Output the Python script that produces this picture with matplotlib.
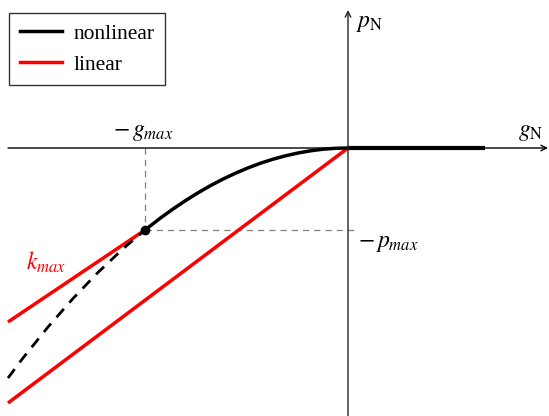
import matplotlib
matplotlib.use("Agg")
import matplotlib.pyplot as plt
from matplotlib.lines import Line2D

plt.rcParams['font.family'] = ['Liberation Serif', 'DejaVu Serif']
plt.rcParams['mathtext.fontset'] = 'stix'

# data (units: 1 = 100 px in reference)
gmax = 2.03
pmax = 0.82
nl_g = [-2.03, -1.875, -1.75, -1.625, -1.5, -1.375, -1.25, -1.125, -1.0, -0.875, -0.75, -0.625, -0.5, -0.375, -0.25, -0.125, 0.0]
nl_p = [-0.82, -0.70, -0.61, -0.526, -0.448, -0.376, -0.311, -0.252, -0.199, -0.152, -0.112, -0.078, -0.050, -0.028, -0.012, -0.003, 0.0]
flat_g = [0.0, 1.37]
flat_p = [0.0, 0.0]
ext_g = [-3.40, -3.25, -3.0, -2.75, -2.5, -2.25, -2.03]
ext_p = [-2.30, -2.10, -1.79, -1.505, -1.244, -1.008, -0.82]
kmax_g = [-3.40, -2.03]
kmax_p = [-1.74, -0.82]
lin_g = [-3.40, 0.0]
lin_p = [-2.55, 0.0]

fig = plt.figure(figsize=(5.49, 4.16), dpi=100)
ax = fig.add_axes([0, 0, 1, 1])
ax.set_xlim(-3.48, 2.01)
ax.set_ylim(-2.68, 1.48)
ax.axis('off')

# axes with arrows
ax.annotate('', xy=(2.00, 0), xytext=(-3.40, 0), annotation_clip=False,
            arrowprops=dict(arrowstyle='->', color='black', lw=1.0, shrinkA=0, shrinkB=0))
ax.annotate('', xy=(0, 1.38), xytext=(0, -2.70), annotation_clip=False,
            arrowprops=dict(arrowstyle='->', color='#222222', lw=1.0, shrinkA=0, shrinkB=0))

# guide lines
ax.plot([-gmax, -gmax], [0, -pmax], color='gray', lw=0.9, ls=(0, (5, 4)))
ax.plot([-gmax, 0.07], [-pmax, -pmax], color='gray', lw=0.9, ls=(0, (5, 4)))

# curves
ax.plot(lin_g, lin_p, color='#ff0000', lw=2.5, solid_capstyle='butt')
ax.plot(kmax_g, kmax_p, color='#ff0000', lw=2.5, solid_capstyle='butt')
ax.plot(ext_g, ext_p, color='black', lw=2.0, ls=(0, (4, 3)))
ax.plot(nl_g, nl_p, color='black', lw=2.5, solid_capstyle='butt')
ax.plot(flat_g, flat_p, color='black', lw=3.0, solid_capstyle='butt')
ax.plot([-gmax], [-pmax], 'o', color='black', ms=6)

# labels
fs = 17
ax.text(1.70, 0.05, r'$g_\mathrm{N}$', fontsize=fs, ha='left', va='bottom')
ax.text(0.08, 1.24, r'$p_\mathrm{N}$', fontsize=fs, ha='left', va='center')
ax.text(-2.05, 0.05, r'$-\,g_{max}$', fontsize=fs, ha='center', va='bottom')
ax.text(0.10, -0.95, r'$-\,p_{max}$', fontsize=fs, ha='left', va='center')
ax.text(-3.22, -1.14, r'$k_{max}$', fontsize=fs, ha='left', va='center', color='#ff0000')

handles = [Line2D([], [], color='black', lw=2.5), Line2D([], [], color='#ff0000', lw=2.5)]
leg = ax.legend(handles, ['nonlinear', 'linear'], loc='upper left',
                bbox_to_anchor=(9/549, 1 - 13/416), fontsize=15.5,
                frameon=True, fancybox=False, edgecolor='black',
                handlelength=1.95, handletextpad=0.55, borderaxespad=0,
                borderpad=0.5, labelspacing=0.5)
leg.get_frame().set_linewidth(1.0)

fig.savefig('out.png', dpi=100)
